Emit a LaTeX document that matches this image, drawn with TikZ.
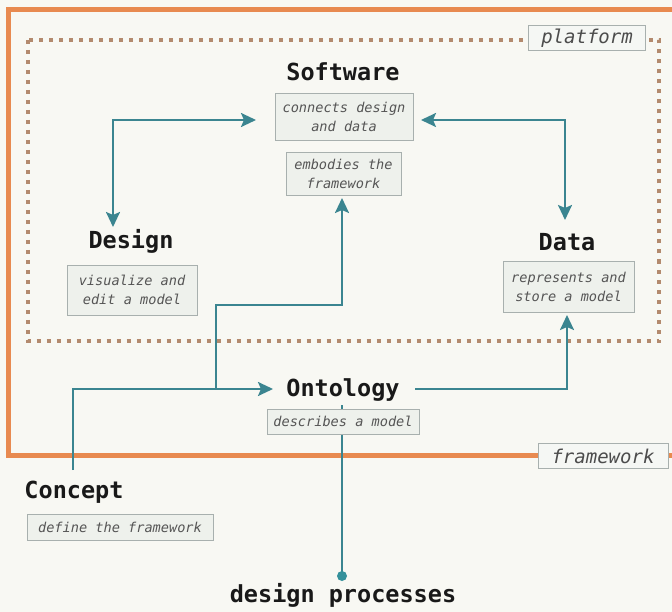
\documentclass[tikz,border=0pt]{standalone}
\usepackage{fontspec}
\setmonofont{DejaVu Sans Mono}
\usetikzlibrary{arrows.meta,calc}
\definecolor{bgc}{HTML}{F8F8F3}
\definecolor{orangec}{HTML}{E88A50}
\definecolor{dotc}{HTML}{B38A6E}
\definecolor{tealc}{HTML}{3B8590}
\definecolor{boxfill}{HTML}{EEF1EC}
\definecolor{boxdraw}{HTML}{A8B0AE}
\definecolor{desctext}{HTML}{555555}
\tikzset{
  title/.style={font=\fontsize{23.5}{26}\selectfont\ttfamily\bfseries, text=black!90, inner sep=0pt},
  desc/.style={draw=boxdraw, fill=boxfill, line width=0.9pt, text=desctext, align=center,
    font=\fontsize{13.6}{19}\selectfont\ttfamily\itshape, inner sep=2pt},
  tag/.style={draw=boxdraw, fill=boxfill!60!white, line width=0.9pt, text=black!70,
    font=\fontsize{19}{22}\selectfont\ttfamily\itshape, inner sep=2pt},
  conn/.style={draw=tealc, line width=2.4pt},
  tip/.style={-{Stealth[length=15pt,width=14pt,inset=3pt]}},
  bitip/.style={{Stealth[length=15pt,width=14pt,inset=3pt]}-{Stealth[length=15pt,width=14pt,inset=3pt]}},
}
\begin{document}
\begin{tikzpicture}[x=1pt,y=-1pt]
\fill[bgc] (0,0) rectangle (672,612);
\useasboundingbox (0,0) rectangle (672,612);
\clip (0,0) rectangle (672,612);
% frames
\draw[orangec, line width=5pt] (8.5,9.5) rectangle (700,455);
\draw[dotc, line width=4pt, dash pattern=on 4pt off 6pt] (27.5,40) rectangle (659,341);
\node[tag, minimum width=117pt, minimum height=25pt] (platform) at (587,38) {platform};
\node[tag, minimum width=130pt, minimum height=25pt] (framework) at (603,456) {framework};
% nodes
\node[title] (soft) at (343,72) {Software};
\node[desc, minimum width=138pt, minimum height=47pt] (softd1) at (344,116.5) {connects design\\and data};
\node[desc, minimum width=115pt, minimum height=43pt] (softd2) at (343.5,173.5) {embodies the\\framework};
\node[title] (design) at (131,241) {Design};
\node[desc, minimum width=130pt, minimum height=50pt] (designd) at (132,290) {visualize and\\edit a model};
\node[title] (data) at (567,242) {Data};
\node[desc, minimum width=131pt, minimum height=51pt] (datad) at (568.5,286.5) {represents and\\store a model};
\node[title] (onto) at (343,390) {Ontology};
\node[title] (concept) at (74,492) {Concept};
\node[desc, minimum width=186pt, minimum height=26pt] (conceptd) at (120,527) {define the framework};
\node[title] (dp) at (343,595) {design processes};
% coordinates
\coordinate (c1) at (113,120);
\coordinate (dtip) at (113,227);
\coordinate (sl) at (256,120);
\coordinate (sr) at (421,120);
\coordinate (c2) at (565,120);
\coordinate (datatip) at (565,220);
\coordinate (ctop) at (73,470);
\coordinate (c3) at (73,389);
\coordinate (ontotip) at (273,389);
\coordinate (j1) at (216,389);
\coordinate (c4) at (216,305);
\coordinate (c5) at (342,305);
\coordinate (s2tip) at (342,198);
\coordinate (oe) at (415,389);
\coordinate (c6) at (567,389);
\coordinate (datadtip) at (567,315);
\coordinate (os) at (342,405);
\coordinate (dot) at (342,576);
% line to design processes (behind box)
\draw[conn] (os) -- (dot);
\fill[tealc!90!cyan] (dot) circle (5pt);
\node[desc, minimum width=152pt, minimum height=25pt] (ontod) at (343,421.5) {describes a model};
% connectors
\draw[conn, bitip] (dtip) -- (c1) -- (sl);
\draw[conn, bitip] (sr) -- (c2) -- (datatip);
\draw[conn, tip] (ctop) -- (c3) -- (ontotip);
\draw[conn, tip] (j1) -- (c4) -- (c5) -- (s2tip);
\draw[conn, tip] (oe) -- (c6) -- (datadtip);
\end{tikzpicture}
\end{document}
